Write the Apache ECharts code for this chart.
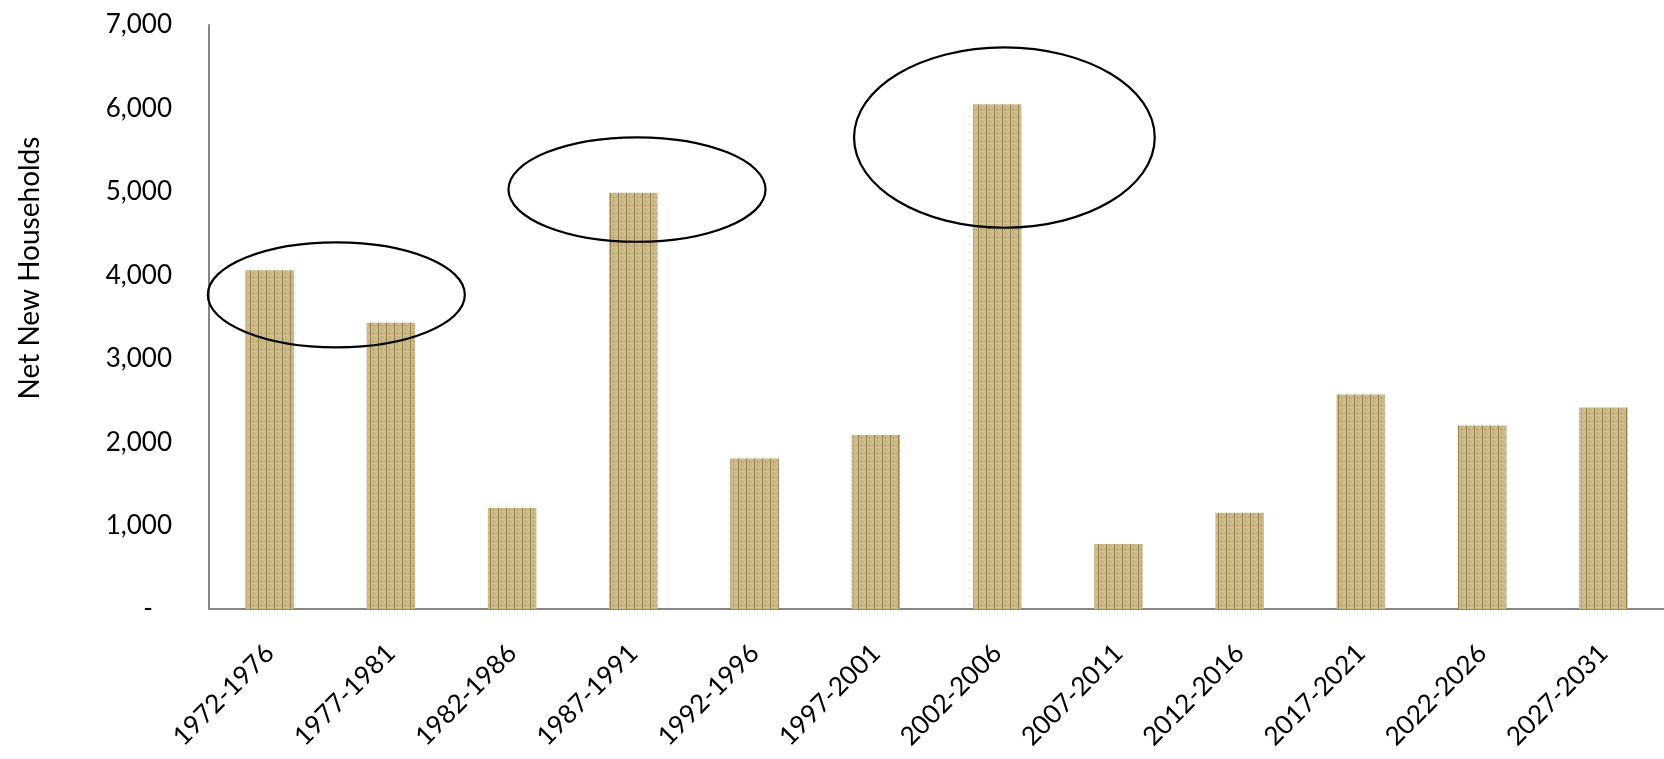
<!DOCTYPE html>
<html>
<head>
<meta charset="utf-8">
<script src="https://cdn.jsdelivr.net/npm/echarts@6/dist/echarts.min.js"></script>
<style>
  html, body { margin: 0; padding: 0; background: #ffffff; }
  #chart { width: 1664px; height: 759px; }
</style>
</head>
<body>
<div id="chart"></div>
<script>
// Five-year periods and net new households formed in each
const periods = ['1972-1976', '1977-1981', '1982-1986', '1987-1991', '1992-1996', '1997-2001',
                 '2002-2006', '2007-2011', '2012-2016', '2017-2021', '2022-2026', '2027-2031'];
const netNewHouseholds = [4060, 3430, 1210, 4990, 1805, 2085, 6050, 780, 1155, 2570, 2200, 2415];

// Value axis ticks
const yTicks = [0, 1000, 2000, 3000, 4000, 5000, 6000, 7000];

// Highlight rings around the growth peaks, in data units
// (centre as category index and value, half-width in categories, half-height in households)
const ringCenterIndex = [0.55, 3.03, 6.06];
const ringCenterValue = [3766, 5028, 5651];
const ringHalfWidth = [1.06, 1.06, 1.24];
const ringHalfHeight = [629, 626, 1081];

// Woven tan fill for the bars
function makeWeave() {
  const c = document.createElement('canvas');
  c.width = 8; c.height = 8;
  const g = c.getContext('2d');
  g.fillStyle = '#cdbd90';
  g.fillRect(0, 0, 8, 8);
  g.fillStyle = '#b19c5e';
  for (let y = 0; y < 8; y += 2) { g.fillRect(5, y, 1, 1); }
  for (let x = 0; x < 8; x += 2) { g.fillRect(x, 5, 1, 1); }
  g.fillStyle = '#9a8240';
  g.fillRect(2, 0, 1, 8);
  g.fillStyle = '#bba874';
  g.fillRect(1, 3, 1, 1);
  g.fillRect(3, 3, 1, 1);
  g.fillRect(7, 1, 1, 1);
  return c;
}

const chart = echarts.init(document.getElementById('chart'), null, { renderer: 'canvas' });
const FONT = 'Lato, "DejaVu Sans", sans-serif';

chart.setOption({
  animation: false,
  backgroundColor: '#ffffff',
  grid: { left: 209, right: 0, top: 25, bottom: 150, containLabel: false },
  xAxis: {
    type: 'category',
    data: periods,
    axisLine: { lineStyle: { color: '#868686', width: 2 } },
    axisTick: { show: false },
    axisLabel: {
      rotate: 45,
      interval: 0,
      margin: 40,
      color: '#000000',
      fontFamily: FONT,
      fontSize: 26
    }
  },
  yAxis: {
    type: 'value',
    min: yTicks[0],
    max: yTicks[yTicks.length - 1],
    interval: yTicks[1] - yTicks[0],
    axisLine: { show: true, lineStyle: { color: '#868686', width: 2 } },
    axisTick: { show: false },
    splitLine: { show: false },
    axisLabel: {
      margin: 37,
      color: '#000000',
      fontFamily: FONT,
      fontSize: 26,
      formatter: v => v === 0 ? '{z|-}' : v.toLocaleString('en-US'),
      rich: { z: { fontFamily: FONT, fontSize: 26, color: '#000000', padding: [0, 19, 0, 0] } }
    }
  },
  series: [{
    type: 'bar',
    data: netNewHouseholds,
    barCategoryGap: '60%',
    itemStyle: { color: { image: makeWeave(), repeat: 'repeat' } }
  }]
});

// Axis title and highlight rings, placed through the chart's own coordinate system
function drawOverlay() {
  const x0 = chart.convertToPixel({ xAxisIndex: 0 }, 0);
  const x1 = chart.convertToPixel({ xAxisIndex: 0 }, 1);
  const step = x1 - x0;
  const yOf = v => chart.convertToPixel({ yAxisIndex: 0 }, v);

  const rings = ringCenterIndex.map((ci, i) => {
    const cy = yOf(ringCenterValue[i]);
    return {
      type: 'ellipse',
      shape: {
        cx: x0 + ci * step,
        cy: cy,
        rx: ringHalfWidth[i] * step,
        ry: yOf(ringCenterValue[i] - ringHalfHeight[i]) - cy
      },
      style: { fill: 'none', stroke: '#000000', lineWidth: 2.2 },
      z: 100
    };
  });

  chart.setOption({
    graphic: [
      {
        type: 'text',
        x: 30,
        y: 268,
        rotation: Math.PI / 2,
        style: {
          text: 'Net New Households',
          fill: '#000000',
          font: '28px ' + FONT,
          align: 'center',
          verticalAlign: 'middle'
        }
      }
    ].concat(rings)
  });
}
drawOverlay();
</script>
</body>
</html>
